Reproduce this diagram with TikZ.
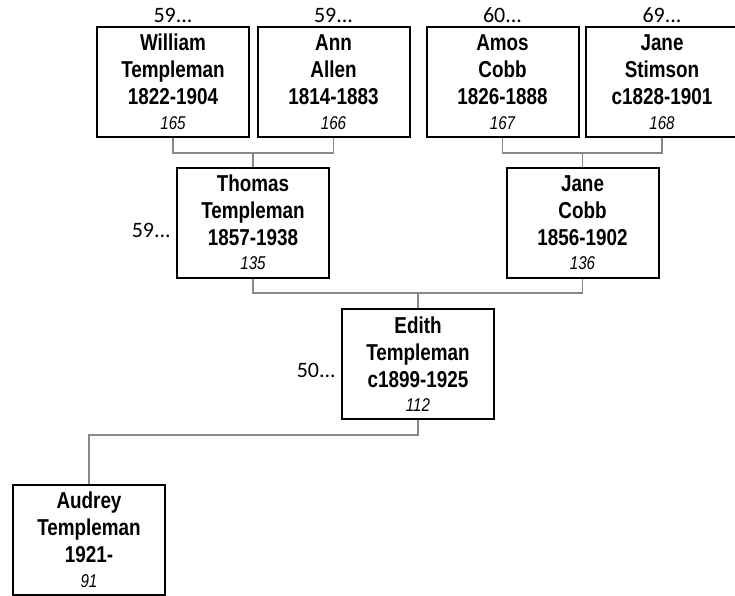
\documentclass[tikz,border=0pt]{standalone}
\usepackage{fontspec}
\setmainfont{Liberation Sans}
\newfontfamily\boxfont[FakeStretch=0.82]{Liberation Sans}
\newfontfamily\numfont[FakeStretch=0.82]{Liberation Sans}
\newfontfamily\genfont{Carlito}
\definecolor{conngray}{RGB}{136,136,136}
\tikzset{
  person/.style={draw=black, line width=2pt, fill=white, minimum width=152pt,
    minimum height=110pt, inner sep=0pt, align=center,
    font=\boxfont\bfseries\fontsize{23}{27}\selectfont},
  conn/.style={draw=conngray, line width=1.7pt},
  gen/.style={font=\genfont\fontsize{22}{24}\selectfont, inner sep=0pt},
}
\newcommand{\refnum}[1]{{\numfont\mdseries\itshape\fontsize{18.5}{20}\selectfont #1}}
\begin{document}
\begin{tikzpicture}[x=1pt,y=-1pt]
\useasboundingbox (0,0) rectangle (735,596);
% persons
\node[person] (william) at (173,82) {William\\Templeman\\1822-1904\\[-2.5pt]\refnum{165}};
\node[person] (ann) at (333.5,82) {Ann\\Allen\\1814-1883\\[-2.5pt]\refnum{166}};
\node[person] (amos) at (502.5,82) {Amos\\Cobb\\1826-1888\\[-2.5pt]\refnum{167}};
\node[person] (stimson) at (662,82) {Jane\\Stimson\\c1828-1901\\[-2.5pt]\refnum{168}};
\node[person] (thomas) at (253,222.5) {Thomas\\Templeman\\1857-1938\\[-2.5pt]\refnum{135}};
\node[person] (janecobb) at (582.5,222.5) {Jane\\Cobb\\1856-1902\\[-2.5pt]\refnum{136}};
\node[person] (edith) at (418,364) {Edith\\Templeman\\c1899-1925\\[-2.5pt]\refnum{112}};
\node[person] (audrey) at (89,540) {Audrey\\Templeman\\1921-\\[-2.5pt]\refnum{91}};
% generation labels
\node[gen, anchor=base] (gwilliam) at (173,23) {59...};
\node[gen, anchor=base] (gann) at (333.5,23) {59...};
\node[gen, anchor=base] (gamos) at (502.5,23) {60...};
\node[gen, anchor=base] (gstimson) at (662,23) {69...};
\node[gen, anchor=base east] (gthomas) at (171,237) {59...};
\node[gen, anchor=base east] (gedith) at (336,377) {50...};
% connectors
\coordinate (wa) at (253,153);
\coordinate (as) at (582.5,153);
\coordinate (tc) at (418,293);
\coordinate (ea) at (89,435);
\draw[conn] (william.south) |- (wa) -| (ann.south);
\draw[conn] (wa) -- (thomas.north);
\draw[conn] (amos.south) |- (as) -| (stimson.south);
\draw[conn] (as) -- (janecobb.north);
\draw[conn] (thomas.south) |- (tc) -| (janecobb.south);
\draw[conn] (tc) -- (edith.north);
\draw[conn] (edith.south) |- (ea) -- (audrey.north);
\end{tikzpicture}
\end{document}
